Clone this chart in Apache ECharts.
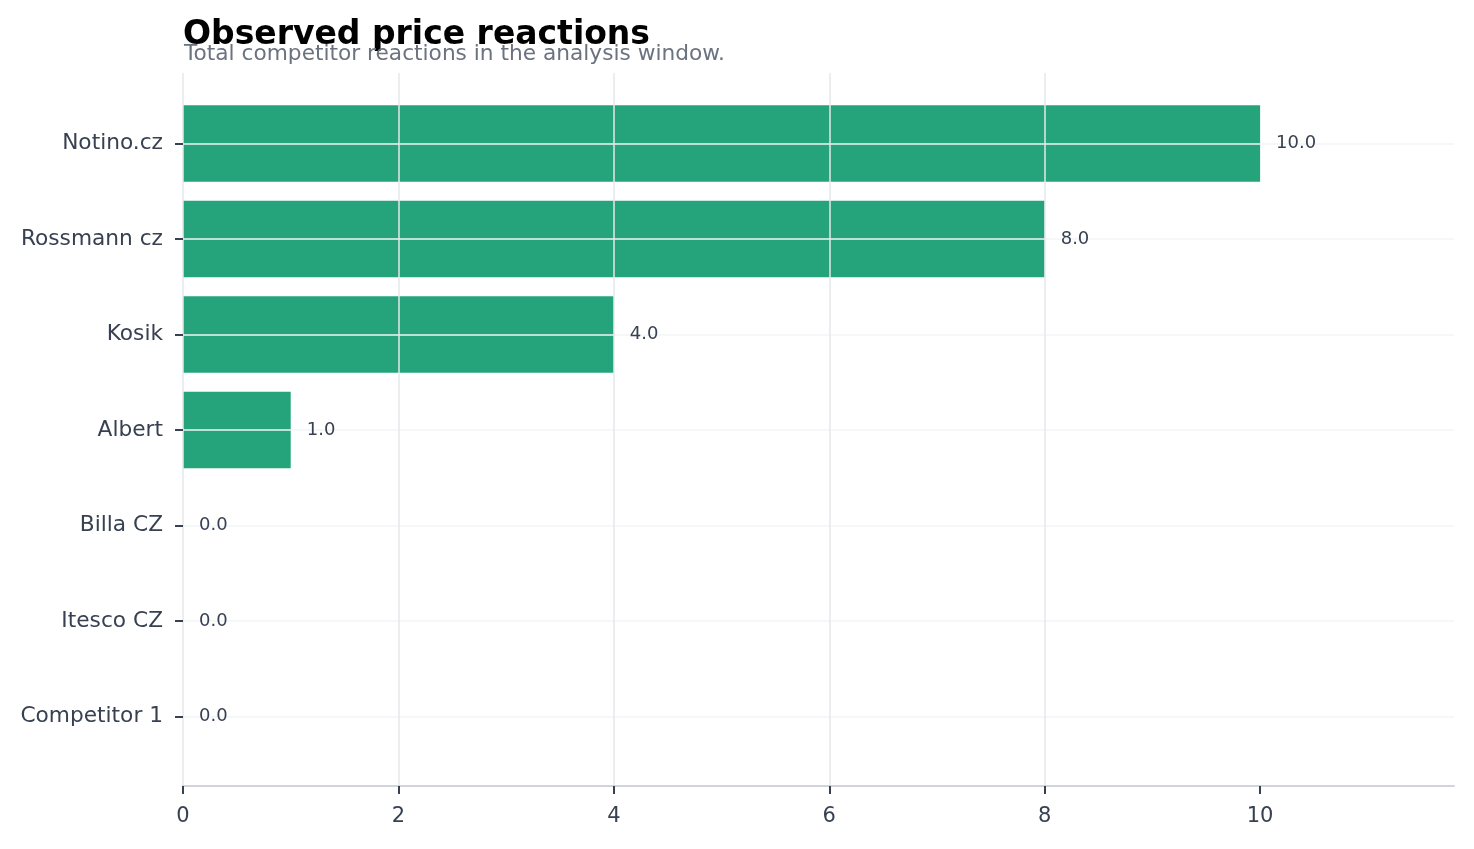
<!DOCTYPE html>
<html>
<head>
<meta charset="utf-8">
<script src="https://cdn.jsdelivr.net/npm/echarts@6/dist/echarts.min.js"></script>
<style>
  html, body { margin: 0; padding: 0; background: #fff; }
  #chart { width: 1474px; height: 849px; }
</style>
</head>
<body>
<div id="chart"></div>
<script>
// data
const competitors = ['Notino.cz', 'Rossmann cz', 'Kosik', 'Albert', 'Billa CZ', 'Itesco CZ', 'Competitor 1'];
const reactions = [10, 8, 4, 1, 0, 0, 0];
const xTicks = [0, 2, 4, 6, 8, 10];

const chart = echarts.init(document.getElementById('chart'));
const font = 'DejaVu Sans';

const option = {
	backgroundColor: '#ffffff',
	animation: false,
	textStyle: { fontFamily: font },
	title: [{
		text: 'Observed price reactions',
		left: 183,
		top: 19,
		padding: 0,
		textStyle: { fontSize: 33, fontWeight: 'bold', color: '#000000', fontFamily: font }
	}, {
		text: 'Total competitor reactions in the analysis window.',
		left: 184,
		top: 43,
		padding: 0,
		textStyle: { fontSize: 21.7, fontWeight: 'normal', color: '#6b7280', fontFamily: font }
	}],
	grid: [
		// outer grid: x axis + vertical gridlines
		{ left: 183, right: 20, top: 73, bottom: 63 },
		// inner grid: bars on category axis
		{ left: 183, right: 20, top: 95.75, bottom: 84.75 }
	],
	xAxis: [{
		gridIndex: 0,
		type: 'value',
		min: 0,
		max: 11.8,
		z: 3,
		axisLine: { show: true, lineStyle: { color: '#d1d5db', width: 2 } },
		axisTick: { show: true, length: 8, customValues: xTicks, lineStyle: { color: '#374151', width: 2 } },
		axisLabel: { customValues: xTicks, fontSize: 21, color: '#374151', margin: 20 },
		splitLine: { show: true, showMaxLine: false, lineStyle: { color: '#e5e7eb', width: 1.5 } }
	}, {
		gridIndex: 1,
		type: 'value',
		min: 0,
		max: 11.8,
		show: false
	}],
	yAxis: [{
		gridIndex: 0,
		type: 'value',
		show: false
	}, {
		gridIndex: 1,
		type: 'category',
		inverse: true,
		data: competitors,
		z: 3,
		axisLine: { show: false },
		axisTick: { show: true, length: 8, alignWithLabel: true, lineStyle: { color: '#374151', width: 2 } },
		axisLabel: { fontSize: 21.7, color: '#374151', margin: 20, padding: [7, 0, 0, 0] },
		splitLine: { show: true, alignWithLabel: true, lineStyle: { color: '#f3f4f6', width: 1.5 } }
	}],
	series: [{
		type: 'bar',
		xAxisIndex: 1,
		yAxisIndex: 1,
		data: reactions,
		barCategoryGap: '20%',
		barGap: '-100%',
		itemStyle: { color: '#25a47b' }
	}, {
		// transparent copy carrying the value labels above the gridlines
		type: 'bar',
		xAxisIndex: 1,
		yAxisIndex: 1,
		data: reactions,
		z: 5,
		silent: true,
		barCategoryGap: '20%',
		barGap: '-100%',
		itemStyle: { color: 'rgba(0,0,0,0)' },
		label: {
			show: true,
			position: 'right',
			distance: 16,
			fontSize: 18,
			color: '#374151',
			padding: [3, 0, 0, 0],
			formatter: function (p) { return p.value.toFixed(1); }
		}
	}]
};
chart.setOption(option);
</script>
</body>
</html>
